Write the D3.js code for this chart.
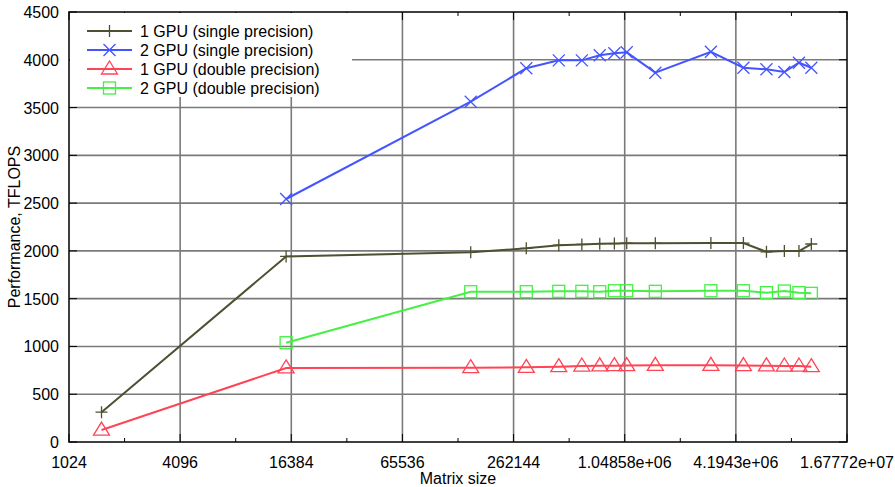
<!DOCTYPE html>
<html>
<head>
<meta charset="utf-8">
<script src="https://cdn.jsdelivr.net/npm/d3@7"></script>
<style>
  body { margin: 0; background: #fff; }
  svg { font-family: "Liberation Sans", Arial, sans-serif; }
</style>
</head>
<body>
<svg id="chart"></svg>
<script>
// matrix sizes
const sizes = [1536, 15360, 153600, 307200, 460800, 614400, 768000, 921600, 1075200,
               1536000, 3072000, 4608000, 6144000, 7680000, 9216000, 10752000];

const gpu1Single = [312, 1942, 1985, 2027, 2060, 2068, 2075, 2077, 2080, 2080, 2082, 2082, 1990, 1998, 1998, 2072];
const gpu2Single = [null, 2543, 3561, 3911, 3994, 3994, 4047, 4068, 4078, 3865, 4084, 3917, 3900, 3872, 3969, 3917];
const gpu1Double = [125, 775, 778, 781, 788, 795, 797, 799, 800, 802, 802, 800, 797, 795, 795, 788];
const gpu2Double = [null, 1039, 1573, 1573, 1577, 1577, 1573, 1583, 1583, 1577, 1583, 1583, 1563, 1580, 1563, 1556];

const xTicks = [1024, 4096, 16384, 65536, 262144, 1048576, 4194304, 16777216];
const xTickLabels = ["1024", "4096", "16384", "65536", "262144", "1.04858e+06", "4.1943e+06", "1.67772e+07"];
const xMinorTicks = [2048, 8192, 32768, 131072, 524288, 2097152, 8388608];
const yTicks = [0, 500, 1000, 1500, 2000, 2500, 3000, 3500, 4000, 4500];

const seriesNames = ["1 GPU (single precision)", "2 GPU (single precision)", "1 GPU (double precision)", "2 GPU (double precision)"];
const seriesColors = ["#4f4f31", "#4455ff", "#ff4455", "#44f044"];
const seriesMarkers = ["plus", "cross", "triangle", "square"];

const width = 895, height = 487;
const margin = {top: 12, right: 48, bottom: 45, left: 69};
const fs = 16;

const svg = d3.select("#chart").attr("width", width).attr("height", height);

const x = d3.scaleLog().base(2)
    .domain([1024, 16777216])
    .range([margin.left, width - margin.right]);

const y = d3.scaleLinear()
    .domain([0, 4500])
    .range([height - margin.bottom, margin.top]);

const x0 = margin.left, x1 = width - margin.right;
const y0 = height - margin.bottom, y1 = margin.top;

// grid
const grid = svg.append("g").attr("stroke", "#7a7a7a").attr("stroke-width", 1.6);
grid.selectAll("line.gx").data(xTicks.slice(1, -1)).enter().append("line")
    .attr("x1", d => x(d)).attr("x2", d => x(d))
    .attr("y1", y0).attr("y2", y1);
grid.selectAll("line.gy").data(yTicks.slice(1, -1)).enter().append("line")
    .attr("x1", x0).attr("x2", x1)
    .attr("y1", d => y(d)).attr("y2", d => y(d));

// ticks (inward, mirrored)
const ticks = svg.append("g").attr("stroke", "#000").attr("stroke-width", 1);
xTicks.forEach(d => {
  ticks.append("line").attr("x1", x(d)).attr("x2", x(d)).attr("y1", y0).attr("y2", y0 - 8);
  ticks.append("line").attr("x1", x(d)).attr("x2", x(d)).attr("y1", y1).attr("y2", y1 + 8);
});
xMinorTicks.forEach(d => {
  ticks.append("line").attr("x1", x(d)).attr("x2", x(d)).attr("y1", y0).attr("y2", y0 - 4);
  ticks.append("line").attr("x1", x(d)).attr("x2", x(d)).attr("y1", y1).attr("y2", y1 + 4);
});
yTicks.forEach(d => {
  ticks.append("line").attr("x1", x0).attr("x2", x0 + 8).attr("y1", y(d)).attr("y2", y(d));
  ticks.append("line").attr("x1", x1).attr("x2", x1 - 8).attr("y1", y(d)).attr("y2", y(d));
});

// tick labels
svg.append("g").selectAll("text").data(xTicks).enter().append("text")
    .attr("x", d => x(d)).attr("y", y0 + 26)
    .attr("text-anchor", "middle").attr("font-size", fs)
    .text((d, i) => xTickLabels[i]);
svg.append("g").selectAll("text").data(yTicks).enter().append("text")
    .attr("x", x0 - 10).attr("y", d => y(d) + 6)
    .attr("text-anchor", "end").attr("font-size", fs)
    .text(d => d);

// axis titles
svg.append("text").attr("x", (x0 + x1) / 2).attr("y", 484)
    .attr("text-anchor", "middle").attr("font-size", fs).text("Matrix size");
svg.append("text").attr("transform", `translate(20,${(y0 + y1) / 2}) rotate(-90)`)
    .attr("text-anchor", "middle").attr("font-size", fs).text("Performance, TFLOPS");

// legend background hides grid
svg.append("rect").attr("x", x0 + 1).attr("y", y1 + 1).attr("width", 282).attr("height", 84).attr("fill", "#fff");

function marker(g, type, cx, cy, color) {
  const s = 6;
  if (type === "plus") {
    g.append("path").attr("d", `M${cx - s},${cy}H${cx + s}M${cx},${cy - s}V${cy + s}`)
      .attr("stroke", color).attr("stroke-width", 1.3).attr("fill", "none");
  } else if (type === "cross") {
    g.append("path").attr("d", `M${cx - s},${cy - s}L${cx + s},${cy + s}M${cx - s},${cy + s}L${cx + s},${cy - s}`)
      .attr("stroke", color).attr("stroke-width", 1.3).attr("fill", "none");
  } else if (type === "triangle") {
    g.append("path").attr("d", `M${cx},${cy - 8}L${cx + 8},${cy + 5}L${cx - 8},${cy + 5}Z`)
      .attr("stroke", color).attr("stroke-width", 1.3).attr("fill", "none");
  } else {
    g.append("rect").attr("x", cx - 6).attr("y", cy - 6).attr("width", 12).attr("height", 12)
      .attr("stroke", color).attr("stroke-width", 1.3).attr("fill", "none");
  }
}

// series
const allSeries = [gpu1Single, gpu2Single, gpu1Double, gpu2Double];
const line = d3.line()
    .defined(d => d.v !== null)
    .x(d => x(d.n)).y(d => y(d.v));

allSeries.forEach((vals, k) => {
  const pts = sizes.map((n, i) => ({n: n, v: vals[i]}));
  const g = svg.append("g");
  g.append("path").datum(pts).attr("d", line)
    .attr("fill", "none").attr("stroke", seriesColors[k]).attr("stroke-width", 2);
  pts.filter(p => p.v !== null).forEach(p => marker(g, seriesMarkers[k], x(p.n), y(p.v), seriesColors[k]));
});

// legend
const legend = svg.append("g");
seriesNames.forEach((name, k) => {
  const ly = 31 + k * 19;
  legend.append("line").attr("x1", 87).attr("x2", 132).attr("y1", ly).attr("y2", ly)
    .attr("stroke", seriesColors[k]).attr("stroke-width", 2);
  marker(legend, seriesMarkers[k], 109.5, ly, seriesColors[k]);
  legend.append("text").attr("x", 140).attr("y", ly + 6).attr("font-size", fs).text(name);
});

// frame
svg.append("rect").attr("x", x0).attr("y", y1).attr("width", x1 - x0).attr("height", y0 - y1)
  .attr("fill", "none").attr("stroke", "#000").attr("stroke-width", 1.5);
</script>
</body>
</html>
